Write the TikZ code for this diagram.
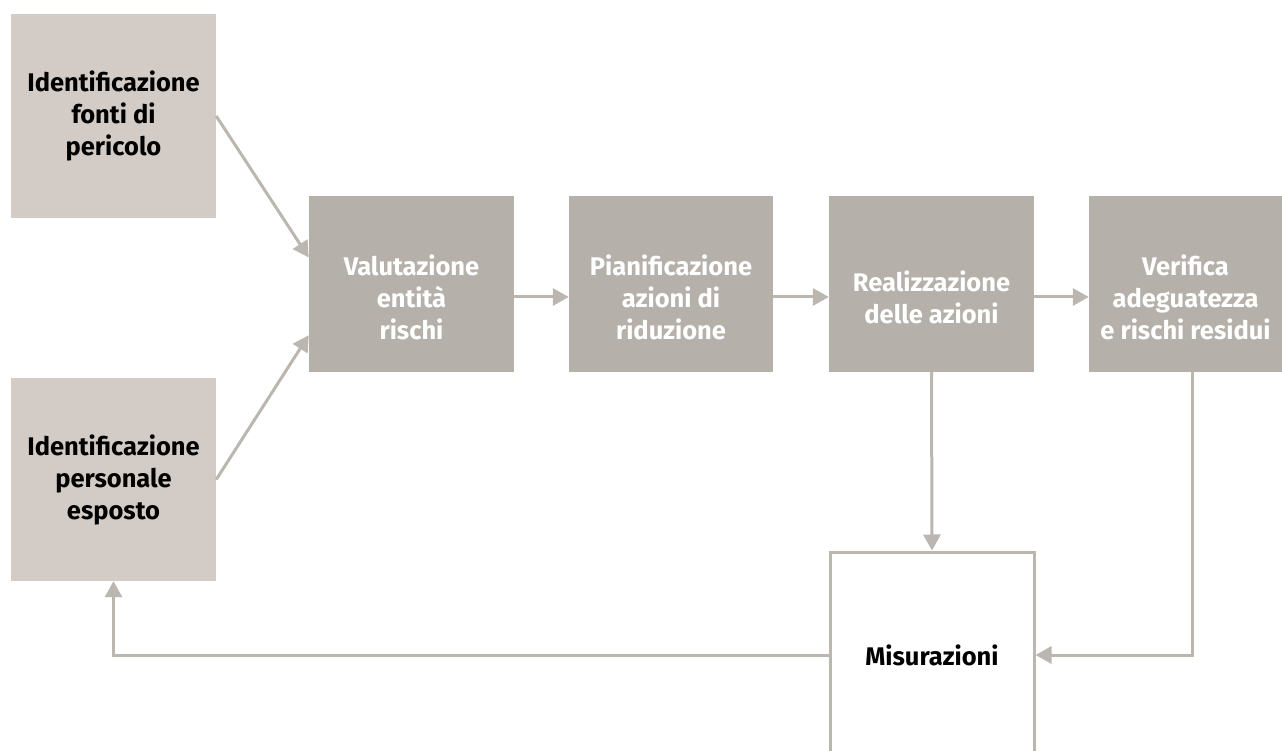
\documentclass[tikz,border=0pt]{standalone}
\usepackage{fontspec}
\setmainfont{Fira Sans}
\usetikzlibrary{arrows.meta,calc}
\definecolor{boxdark}{HTML}{B5B0A9}
\definecolor{boxlight}{HTML}{D3CBC5}
\definecolor{linegray}{HTML}{BBB6B0}
\tikzset{
	inbox/.style={fill=boxlight, text=black, minimum width=205pt, minimum height=204pt, inner sep=0pt, align=center, font=\bfseries\fontsize{25.5}{32}\selectfont},
	stepbox/.style={fill=boxdark, minimum width=205pt, minimum height=176pt, inner sep=0pt},
	steptext/.style={text=white, inner sep=0pt, align=center, yshift=-13pt, font=\bfseries\fontsize{25.5}{32}\selectfont},
	outbox/.style={draw=linegray, line width=3pt, fill=white, minimum width=204pt, minimum height=206pt, inner sep=0pt, align=center, font=\bfseries\fontsize{25.5}{32}\selectfont},
	arr/.style={draw=linegray, line width=3pt, -{Triangle[length=16pt,width=17pt]}}
}
\begin{document}
\begin{tikzpicture}[x=1pt, y=-1pt]
	\useasboundingbox (0,0) rectangle (1282,751);
	\clip (0,0) rectangle (1282,751);
	%boxes
	\node[inbox] (fonti) at (113.5,116) {Identificazione\\fonti di\\pericolo};
	\node[inbox, minimum height=203pt] (personale) at (113.5,479.5) {Identificazione\\personale\\esposto};
	\node[stepbox, label={[steptext]center:{Valutazione\\entità\\rischi}}] (valut) at (411.5,284) {};
	\node[stepbox, minimum width=204pt, label={[steptext]center:{Pianificazione\\azioni di\\riduzione}}] (pianif) at (671,284) {};
	\node[stepbox, label={[steptext]center:{Realizzazione\\delle azioni}}] (realiz) at (931.5,284) {};
	\node[stepbox, minimum width=193pt, label={[steptext]center:{Verifica\\adeguatezza\\e rischi residui}}] (verif) at (1185.5,284) {};
	\node[outbox] (misur) at (932,655) {Misurazioni};
	%arrows
	\draw[arr] (fonti.east) -- ($(valut.north west)!.35!(valut.south west)$);
	\draw[arr] (personale.east) -- ($(valut.north west)!.79!(valut.south west)$);
	\draw[arr] ([yshift=-13pt]valut.east) -- ([yshift=-13pt]pianif.west);
	\draw[arr] ([yshift=-13pt]pianif.east) -- ([yshift=-13pt]realiz.west);
	\draw[arr] ([yshift=-13pt]realiz.east) -- ([yshift=-13pt]verif.west);
	\draw[arr] (realiz.south) -- (misur.north);
	\draw[arr] ([xshift=6.5pt]verif.south) |- (misur.east);
	\draw[arr] (misur.west) -| (personale.south);
\end{tikzpicture}
\end{document}
